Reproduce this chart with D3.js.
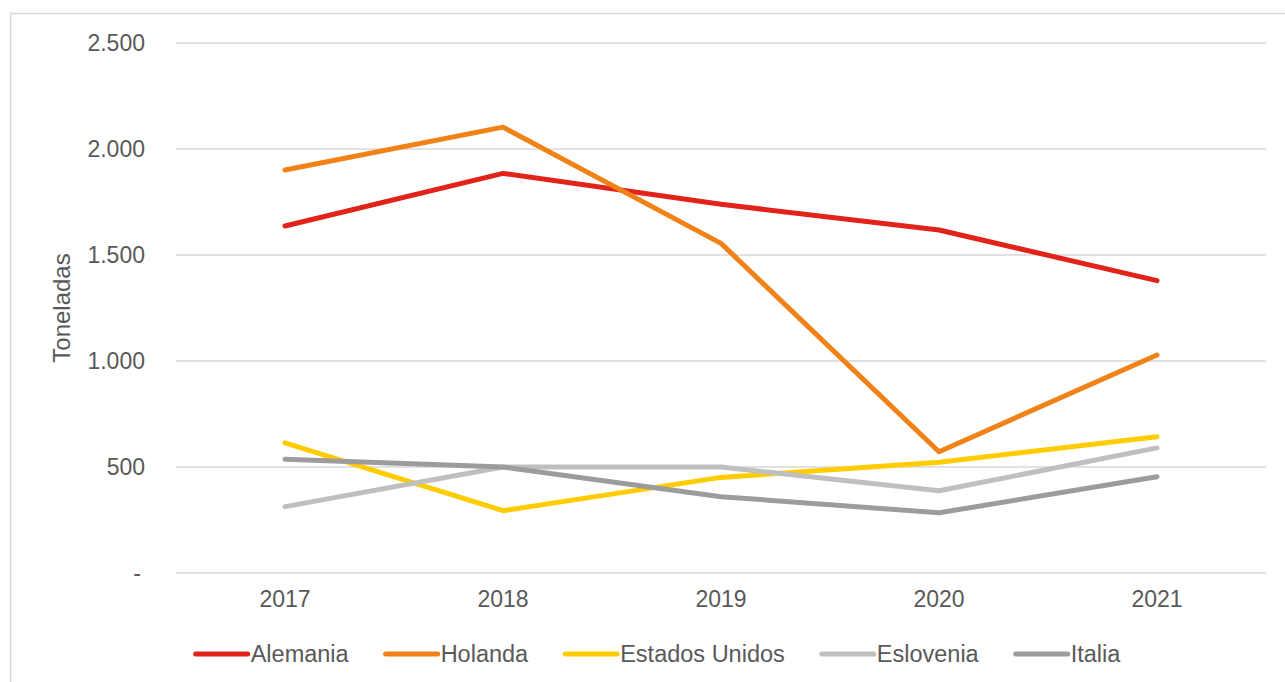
<!DOCTYPE html>
<html>
<head>
<meta charset="utf-8">
<script src="https://cdn.jsdelivr.net/npm/d3@7"></script>
<style>
  body { margin: 0; background: #fff; }
  text { font-family: "Liberation Sans", Arial, sans-serif; fill: #595959; }
</style>
</head>
<body>
<div id="chart"></div>
<script>
const years = ["2017", "2018", "2019", "2020", "2021"];
const seriesNames = ["Alemania", "Holanda", "Estados Unidos", "Eslovenia", "Italia"];
const alemania = [1637, 1885, 1739, 1618, 1379];
const holanda = [1901, 2103, 1555, 572, 1028];
const estadosUnidos = [614, 294, 451, 522, 643];
const eslovenia = [313, 500, 500, 388, 590];
const italia = [536, 500, 360, 284, 454];
const yTicks = [0, 500, 1000, 1500, 2000, 2500];
const colors = ["#e2231a", "#f08218", "#ffcc00", "#c0bfbf", "#9d9b9c"];

const series = seriesNames.map((name, i) => ({
  name,
  color: colors[i],
  values: [alemania, holanda, estadosUnidos, eslovenia, italia][i]
}));

const width = 1285, height = 682;
const marginLeft = 176, marginRight = 19, marginTop = 43, marginBottom = 109;

const svg = d3.select("#chart").append("svg")
  .attr("width", width).attr("height", height);

// marco del gráfico
svg.append("rect")
  .attr("x", 10.5).attr("y", 13.5)
  .attr("width", width + 20).attr("height", height + 20)
  .attr("fill", "none").attr("stroke", "#d9d9d9").attr("stroke-width", 1.5);

const x = d3.scaleBand()
  .domain(years)
  .range([marginLeft, width - marginRight]);

const y = d3.scaleLinear()
  .domain([0, 2500])
  .range([height - marginBottom, marginTop]);

// líneas de cuadrícula
svg.append("g")
  .selectAll("line")
  .data(yTicks)
  .join("line")
  .attr("x1", marginLeft).attr("x2", width - marginRight)
  .attr("y1", d => y(d)).attr("y2", d => y(d))
  .attr("stroke", "#d9d9d9").attr("stroke-width", 1.5);

// eje Y
const yAxis = svg.append("g")
  .attr("transform", `translate(${marginLeft - 28}, 0)`)
  .call(d3.axisLeft(y).tickValues(yTicks).tickSize(0)
    .tickFormat(d => d === 0 ? "-" : d3.format(",")(d).replace(/,/g, ".")));
yAxis.select(".domain").remove();
yAxis.selectAll("text").attr("font-size", 23).attr("fill", "#595959").attr("dx", d => d === 0 ? -4 : 0);

// eje X
const xAxis = svg.append("g")
  .attr("transform", `translate(0, ${height - marginBottom})`)
  .call(d3.axisBottom(x).tickSize(0).tickPadding(18));
xAxis.select(".domain").remove();
xAxis.selectAll("text").attr("font-size", 23).attr("fill", "#595959");

// título del eje Y
svg.append("text")
  .attr("transform", `translate(70, ${(y(0) + y(2500)) / 2}) rotate(-90)`)
  .attr("text-anchor", "middle")
  .attr("font-size", 24)
  .text("Toneladas");

// líneas de las series
const line = d3.line()
  .x((d, i) => x(years[i]) + x.bandwidth() / 2)
  .y(d => y(d));

svg.append("g")
  .selectAll("path")
  .data(series)
  .join("path")
  .attr("d", d => line(d.values))
  .attr("fill", "none")
  .attr("stroke", d => d.color)
  .attr("stroke-width", 5)
  .attr("stroke-linecap", "round")
  .attr("stroke-linejoin", "round");

// leyenda
const legend = svg.append("g");
const legendY = 654;
let lx = 0;
series.forEach(s => {
  const g = legend.append("g").attr("transform", `translate(${lx}, ${legendY})`);
  g.append("line")
    .attr("x1", 2).attr("x2", 54)
    .attr("stroke", s.color).attr("stroke-width", 5).attr("stroke-linecap", "round");
  const t = g.append("text")
    .attr("x", 57).attr("dy", "0.35em")
    .attr("font-size", 23.5)
    .text(s.name);
  lx += 57 + t.node().getComputedTextLength() + 35;
});
const legendWidth = lx - 35;
legend.attr("transform", `translate(${657 - legendWidth / 2}, 0)`);
</script>
</body>
</html>
